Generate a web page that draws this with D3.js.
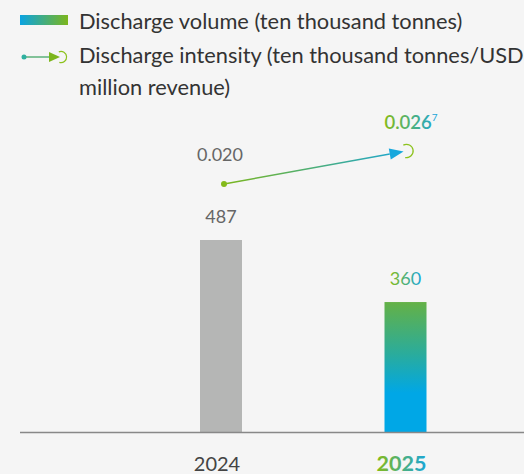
<!DOCTYPE html>
<html lang="en">
<head>
  <meta charset="UTF-8"/>
  <title>Discharge volume and intensity</title>
  <script src="https://d3js.org/d3.v7.min.js"></script>
  <style>
    body { margin: 0; background: #f5f5f5; }
    text { font-family: Lato, "Noto Sans", sans-serif; }
  </style>
</head>
<body>
<svg id="chart"></svg>
<script>
  var years = ["2024", "2025"];
  var volume = [487, 360];
  var intensity = [0.020, 0.026];
  var volumeLabels = ["487", "360"];
  var intensityLabels = ["0.020", "0.026"];

  var width = 524, height = 474;
  var blue = "#00a7e6";

  var svg = d3.select("#chart").attr("width", width).attr("height", height);
  var defs = svg.append("defs");

  // gradients
  var g1 = defs.append("linearGradient").attr("id", "barGrad")
      .attr("x1", 0).attr("y1", 0).attr("x2", 0).attr("y2", 1);
  g1.append("stop").attr("offset", "0%").attr("stop-color", "#64b146");
  g1.append("stop").attr("offset", "40%").attr("stop-color", "#2aac9c");
  g1.append("stop").attr("offset", "70%").attr("stop-color", blue);
  g1.append("stop").attr("offset", "100%").attr("stop-color", blue);

  var g2 = defs.append("linearGradient").attr("id", "legGrad");
  g2.append("stop").attr("offset", "0%").attr("stop-color", "#0aa3e2");
  g2.append("stop").attr("offset", "100%").attr("stop-color", "#7cb61c");

  var g3 = defs.append("linearGradient").attr("id", "txtGrad");
  g3.append("stop").attr("offset", "0%").attr("stop-color", "#84ba1a");
  g3.append("stop").attr("offset", "100%").attr("stop-color", "#1aa6d8");

  var x = d3.scalePoint().domain(years).range([221, 405.5]);
  var y = d3.scaleLinear().domain([94, 487]).range([432, 240]);
  var yi = d3.scaleLinear().domain([0.020, 0.026]).range([184, 151]);
  var barW = 42;

  // legend
  var leg = svg.append("g");
  leg.append("rect").attr("x", 20).attr("y", 15).attr("width", 48).attr("height", 10)
    .attr("fill", "url(#legGrad)");
  leg.append("text").attr("x", 79).attr("y", 29).attr("font-size", 21.8).attr("fill", "#333")
    .text("Discharge volume (ten thousand tonnes)");
  leg.append("line").attr("x1", 24).attr("y1", 57).attr("x2", 50).attr("y2", 57)
    .attr("stroke", "#5bb07a").attr("stroke-width", 1.5);
  leg.append("circle").attr("cx", 24).attr("cy", 57).attr("r", 2.5).attr("fill", "#2fb0a0");
  leg.append("path").attr("d", "M49,52 L60,57 L49,62 Z").attr("fill", "#7cb61c");
  leg.append("path").attr("d", d3.arc()({innerRadius: 5, outerRadius: 6.2, startAngle: -0.4, endAngle: Math.PI + 0.3}))
    .attr("transform", "translate(61,57)").attr("fill", "#8cc21c");
  leg.append("text").attr("x", 79).attr("y", 63).attr("font-size", 21.8).attr("fill", "#333")
    .text("Discharge intensity (ten thousand tonnes/USD");
  leg.append("text").attr("x", 79).attr("y", 95).attr("font-size", 21.8).attr("fill", "#333")
    .text("million revenue)");

  // bars
  svg.selectAll(".bar").data(years).enter().append("rect")
    .attr("class", "bar")
    .attr("x", function(d){ return x(d) - barW / 2; })
    .attr("y", function(d, i){ return y(volume[i]); })
    .attr("width", barW)
    .attr("height", function(d, i){ return y.range()[0] - y(volume[i]); })
    .attr("fill", function(d, i){ return i === 0 ? "#b5b6b5" : "url(#barGrad)"; });

  // baseline
  svg.append("line").attr("x1", 20).attr("x2", width).attr("y1", 432.5).attr("y2", 432.5)
    .attr("stroke", "#888").attr("stroke-width", 1.5);

  // bar labels
  svg.selectAll(".vlab").data(years).enter().append("text")
    .attr("x", function(d){ return x(d); })
    .attr("y", function(d, i){ return y(volume[i]) - 17; })
    .attr("text-anchor", "middle").attr("font-size", 18)
    .attr("fill", function(d, i){ return i === 0 ? "#666" : "url(#txtGrad)"; })
    .text(function(d, i){ return volumeLabels[i]; });

  // year labels
  svg.selectAll(".ylab").data(years).enter().append("text")
    .attr("x", function(d){ return x(d) - 4; })
    .attr("y", 471)
    .attr("text-anchor", "middle")
    .attr("font-size", function(d, i){ return i === 0 ? 20 : 21.5; })
    .attr("font-weight", function(d, i){ return i === 0 ? "normal" : "bold"; })
    .attr("fill", function(d, i){ return i === 0 ? "#444" : "url(#txtGrad)"; })
    .text(function(d){ return d; });

  // intensity line
  var x0 = x(years[0]) + 3, y0 = yi(intensity[0]);
  var x1 = x(years[1]) + 1, y1 = yi(intensity[1]);
  var lg = defs.append("linearGradient").attr("id", "lineGrad")
    .attr("gradientUnits", "userSpaceOnUse")
    .attr("x1", x0).attr("y1", y0).attr("x2", x1).attr("y2", y1);
  lg.append("stop").attr("offset", "0%").attr("stop-color", "#7cb61c");
  lg.append("stop").attr("offset", "100%").attr("stop-color", "#1aa6d8");

  var ang = Math.atan2(y1 - y0, x1 - x0);
  var tipX = x1 - 3 * Math.cos(ang), tipY = y1 - 3 * Math.sin(ang);
  var baseX = tipX - 14 * Math.cos(ang), baseY = tipY - 14 * Math.sin(ang);
  svg.append("line").attr("x1", x0).attr("y1", y0).attr("x2", baseX).attr("y2", baseY)
    .attr("stroke", "url(#lineGrad)").attr("stroke-width", 1.5);
  svg.append("path")
    .attr("d", "M0,0 L-14,-5.5 L-14,5.5 Z")
    .attr("transform", "translate(" + tipX + "," + tipY + ") rotate(" + (ang * 180 / Math.PI) + ")")
    .attr("fill", "#17a8dd");
  svg.append("circle").attr("cx", x0).attr("cy", y0).attr("r", 3).attr("fill", "#84ba1a");
  svg.append("path")
    .attr("d", d3.arc()({innerRadius: 6, outerRadius: 7.3, startAngle: -0.5, endAngle: Math.PI + 0.2}))
    .attr("transform", "translate(" + x1 + "," + y1 + ")")
    .attr("fill", "#8cc21c");

  // intensity labels
  svg.append("text").attr("x", x0 - 4).attr("y", y0 - 23)
    .attr("text-anchor", "middle").attr("font-size", 18).attr("fill", "#666")
    .text(intensityLabels[0]);
  var t2 = svg.append("text").attr("x", x1 - 22).attr("y", y1 - 22)
    .attr("font-size", 18.5).attr("font-weight", 600);
  t2.append("tspan").attr("fill", "url(#txtGrad)").text(intensityLabels[1]);
  t2.append("tspan").attr("fill", "#1aa6d8").attr("font-size", 10).attr("font-weight", "normal").attr("dy", -8).text("7");
</script>
</body>
</html>
